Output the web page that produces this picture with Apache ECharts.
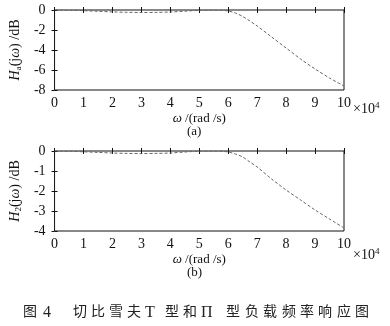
<!DOCTYPE html>
<html>
<head>
<meta charset="utf-8">
<script src="https://cdn.jsdelivr.net/npm/echarts@6/dist/echarts.min.js"></script>
<style>html,body{margin:0;padding:0;background:#fff;}#c{width:390px;height:326px;}</style>
</head>
<body>
<div id="c"></div>
<script>
// ---- data ----
const omega = [0, 0.5, 1, 1.5, 2, 2.5, 3, 3.5, 4, 4.5, 5, 5.5, 5.75, 6, 6.25, 6.5, 6.75, 7, 7.5, 8, 8.5, 9, 9.5, 10];
const Ha = [0, -0.02, -0.07, -0.13, -0.19, -0.23, -0.25, -0.24, -0.2, -0.12, -0.03, 0, -0.02, -0.1, -0.3, -0.65, -1.1, -1.6, -2.7, -3.8, -4.9, -5.9, -6.8, -7.6];
const Hb = [0, -0.01, -0.04, -0.07, -0.1, -0.12, -0.13, -0.12, -0.1, -0.05, -0.01, 0, -0.01, -0.05, -0.15, -0.3, -0.55, -0.8, -1.4, -1.95, -2.45, -2.95, -3.4, -3.85];
const xTicks = [0, 1, 2, 3, 4, 5, 6, 7, 8, 9, 10];
const yTicksA = [0, -2, -4, -6, -8];
const yTicksB = [0, -1, -2, -3, -4];
const caption = "图4切比雪夫T型和Π型负载频率响应图";
const subLabels = ["(a)", "(b)"];

const serif = "Liberation Serif";
const chart = echarts.init(document.getElementById('c'), null, {renderer: 'canvas'});

function pairs(xs, ys) { return xs.map((x, i) => [x, ys[i]]); }

const grids = [
  {left: 50, right: 46, top: 10, height: 80, show: true, borderColor: '#111', borderWidth: 1},
  {left: 50, right: 46, top: 151, height: 80, show: true, borderColor: '#111', borderWidth: 1}
];
const tickStyle = {show: true, inside: true, length: 3, lineStyle: {color: '#111', width: 1}};
const labelStyle = {color: '#111', fontFamily: serif, fontSize: 14};

function xAxes(gi) {
  return [
    {type: 'value', gridIndex: gi, min: xTicks[0], max: xTicks[xTicks.length - 1], interval: 1,
     axisLine: {show: false}, axisTick: tickStyle, splitLine: {show: false},
     axisLabel: Object.assign({margin: 6}, labelStyle),
     name: '{i|ω} /(rad /s)', nameLocation: 'middle', nameGap: 22,
     nameTextStyle: {color: '#111', fontFamily: serif, fontSize: 13,
       rich: {i: {fontStyle: 'italic', fontFamily: serif, fontSize: 13, color: '#111'}}}},
    {type: 'value', gridIndex: gi, position: 'top', min: xTicks[0], max: xTicks[xTicks.length - 1], interval: 1,
     axisLine: {show: false}, axisTick: tickStyle, axisLabel: {show: false}, splitLine: {show: false}}
  ];
}
function yAxes(gi, ticks, sub) {
  const mn = Math.min.apply(null, ticks), mx = Math.max.apply(null, ticks);
  const iv = Math.abs(ticks[1] - ticks[0]);
  return [
    {type: 'value', gridIndex: gi, min: mn, max: mx, interval: iv,
     axisLine: {show: false}, axisTick: tickStyle, splitLine: {show: false},
     axisLabel: Object.assign({margin: 9}, labelStyle),
     name: '{i|H}{s|' + sub + '}(j{i|ω}) /dB', nameLocation: 'middle', nameGap: 31, nameRotate: 90,
     nameTextStyle: {color: '#111', fontFamily: serif, fontSize: 14,
       rich: {i: {fontStyle: 'italic', fontFamily: serif, fontSize: 14, color: '#111'},
              s: {fontFamily: serif, fontSize: 9, color: '#111', verticalAlign: 'bottom', padding: [7, 0, 0, 0]}}}},
    {type: 'value', gridIndex: gi, position: 'right', min: mn, max: mx, interval: iv,
     axisLine: {show: false}, axisTick: tickStyle, axisLabel: {show: false}, splitLine: {show: false}}
  ];
}

const lineStyle = {color: '#666', width: 1, type: [3, 2]};

// caption per-character layout (wide letter spacing as in the reference)
const capX = [23, 43, 73, 91, 109, 127, 145, 165, 183, 201, 226, 245, 263, 282, 300, 318, 337, 355];
const latin = {"4": 1, "T": 1, "Π": 1};
const capGraphics = caption.split('').map((ch, i) => ({
  type: 'text', left: capX[i], top: latin[ch] ? 305 : 304,
  style: {text: ch, font: latin[ch] ? '16px "Liberation Serif"' : '14px "Noto Sans CJK SC"', fill: '#222'}
}));

const xPow = {text: '×10{s|4}', font: '14px "Liberation Serif"', fill: '#111',
  rich: {s: {fontSize: 9, fontFamily: serif, verticalAlign: 'top', padding: [0, 0, 7, 0]}}};

chart.setOption({
  animation: false,
  grid: grids,
  xAxis: xAxes(0).concat(xAxes(1)),
  yAxis: yAxes(0, yTicksA, 'a').concat(yAxes(1, yTicksB, '2')),
  series: [
    {type: 'line', xAxisIndex: 0, yAxisIndex: 0, data: pairs(omega, Ha), smooth: 0.3, showSymbol: false, lineStyle: lineStyle},
    {type: 'line', xAxisIndex: 2, yAxisIndex: 2, data: pairs(omega, Hb), smooth: 0.3, showSymbol: false, lineStyle: lineStyle}
  ],
  graphic: [
    {type: 'text', left: 353, top: 101, style: xPow},
    {type: 'text', left: 353, top: 247, style: xPow},
    {type: 'text', left: 187, top: 125, style: {text: subLabels[0], font: '13px "Liberation Serif"', fill: '#111'}},
    {type: 'text', left: 187, top: 266, style: {text: subLabels[1], font: '13px "Liberation Serif"', fill: '#111'}}
  ].concat(capGraphics)
});
</script>
</body>
</html>
